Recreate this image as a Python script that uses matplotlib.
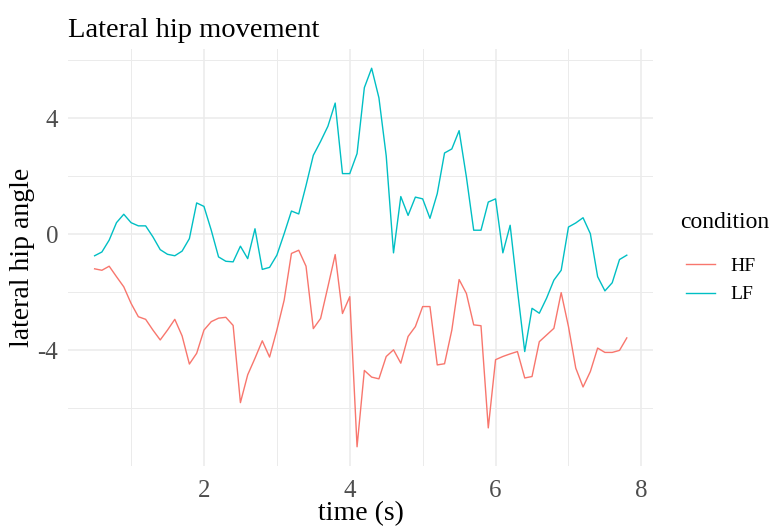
import matplotlib
matplotlib.use('Agg')
import matplotlib.pyplot as plt
from matplotlib.ticker import MultipleLocator

time_s = [0.5, 0.6, 0.7, 0.8, 0.9, 1.0, 1.1, 1.2, 1.3, 1.4,
          1.5, 1.6, 1.7, 1.8, 1.9, 2.0, 2.1, 2.2, 2.3, 2.4,
          2.5, 2.6, 2.7, 2.8, 2.9, 3.0, 3.1, 3.2, 3.3, 3.4,
          3.5, 3.6, 3.7, 3.8, 3.9, 4.0, 4.1, 4.2, 4.3, 4.4,
          4.5, 4.6, 4.7, 4.8, 4.9, 5.0, 5.1, 5.2, 5.3, 5.4,
          5.5, 5.6, 5.7, 5.8, 5.9, 6.0, 6.1, 6.2, 6.3, 6.4,
          6.5, 6.6, 6.7, 6.8, 6.9, 7.0, 7.1, 7.2, 7.3, 7.4,
          7.5, 7.6, 7.7, 7.8]

hf_angle = [-1.19, -1.24, -1.10, -1.46, -1.81, -2.38, -2.84, -2.93, -3.30, -3.64,
            -3.30, -2.93, -3.50, -4.47, -4.10, -3.30, -3.01, -2.89, -2.86, -3.14,
            -5.80, -4.84, -4.27, -3.67, -4.23, -3.30, -2.27, -0.66, -0.55, -1.10,
            -3.25, -2.90, -1.81, -0.70, -2.73, -2.15, -7.32, -4.69, -4.92, -4.98,
            -4.21, -3.98, -4.44, -3.52, -3.18, -2.49, -2.49, -4.50, -4.46, -3.30,
            -1.56, -2.04, -3.12, -3.15, -6.67, -4.32, -4.21, -4.12, -4.04, -4.95,
            -4.90, -3.70, -3.47, -3.24, -2.01, -3.18, -4.61, -5.26, -4.73, -3.92,
            -4.07, -4.07, -4.00, -3.57]

lf_angle = [-0.74, -0.61, -0.20, 0.40, 0.69, 0.40, 0.29, 0.29, -0.09, -0.53,
            -0.69, -0.74, -0.58, -0.15, 1.08, 0.96, 0.14, -0.78, -0.93, -0.95,
            -0.41, -0.84, 0.19, -1.21, -1.14, -0.72, 0.02, 0.80, 0.70, 1.68,
            2.72, 3.20, 3.72, 4.52, 2.09, 2.09, 2.78, 5.05, 5.72, 4.70,
            2.70, -0.64, 1.30, 0.65, 1.28, 1.22, 0.55, 1.40, 2.80, 2.94,
            3.57, 1.97, 0.14, 0.14, 1.11, 1.22, -0.64, 0.31, -1.92, -4.04,
            -2.55, -2.72, -2.20, -1.58, -1.24, 0.25, 0.39, 0.57, 0.02, -1.46,
            -1.95, -1.67, -0.87, -0.72]

conditions = ['HF', 'LF']
colors = {'HF': '#F8766D', 'LF': '#00BFC4'}

plt.rcParams['font.family'] = ['Liberation Serif', 'DejaVu Serif']
plt.rcParams['axes.unicode_minus'] = False

fig = plt.figure(figsize=(7.79, 5.27), dpi=100)
ax = fig.add_axes([68 / 779, 1 - 465.7 / 527, (653.4 - 68) / 779, (465.7 - 49.3) / 527])

series = {'HF': hf_angle, 'LF': lf_angle}
for cond in conditions:
    ax.plot(time_s, series[cond], color=colors[cond], linewidth=1.0, label=cond)

ax.margins(x=0.05, y=0.05)

# ggplot theme_minimal look
ax.xaxis.set_major_locator(MultipleLocator(2))
ax.xaxis.set_minor_locator(MultipleLocator(1))
ax.yaxis.set_major_locator(MultipleLocator(4))
ax.yaxis.set_minor_locator(MultipleLocator(2))
ax.grid(which='major', color='#EBEBEB', linewidth=1.1)
ax.grid(which='minor', color='#EBEBEB', linewidth=0.7)
ax.set_axisbelow(True)
for s in ax.spines.values():
    s.set_visible(False)
ax.tick_params(which='both', length=0)
ax.tick_params(axis='both', labelsize=18, labelcolor='#4D4D4D')
ax.tick_params(axis='x', pad=10)
ax.tick_params(axis='y', pad=7)

ax.set_xlabel('time (s)', fontsize=20, labelpad=0)
ax.set_ylabel('lateral hip angle', fontsize=20, labelpad=2)
ax.set_title('Lateral hip movement', fontsize=20.5, loc='left', pad=9)

# legend: title as separate text so the gap below it matches
fig.text(680 / 779, 1 - 222 / 527, 'condition', fontsize=17, va='center', ha='left')
leg = fig.legend(loc='upper left', bbox_to_anchor=(668 / 779, 1 - 240 / 527),
                 frameon=False, fontsize=14, handlelength=1.5,
                 handletextpad=0.8, labelspacing=0.55)

plt.savefig('out.png', dpi=100)
plt.close(fig)
